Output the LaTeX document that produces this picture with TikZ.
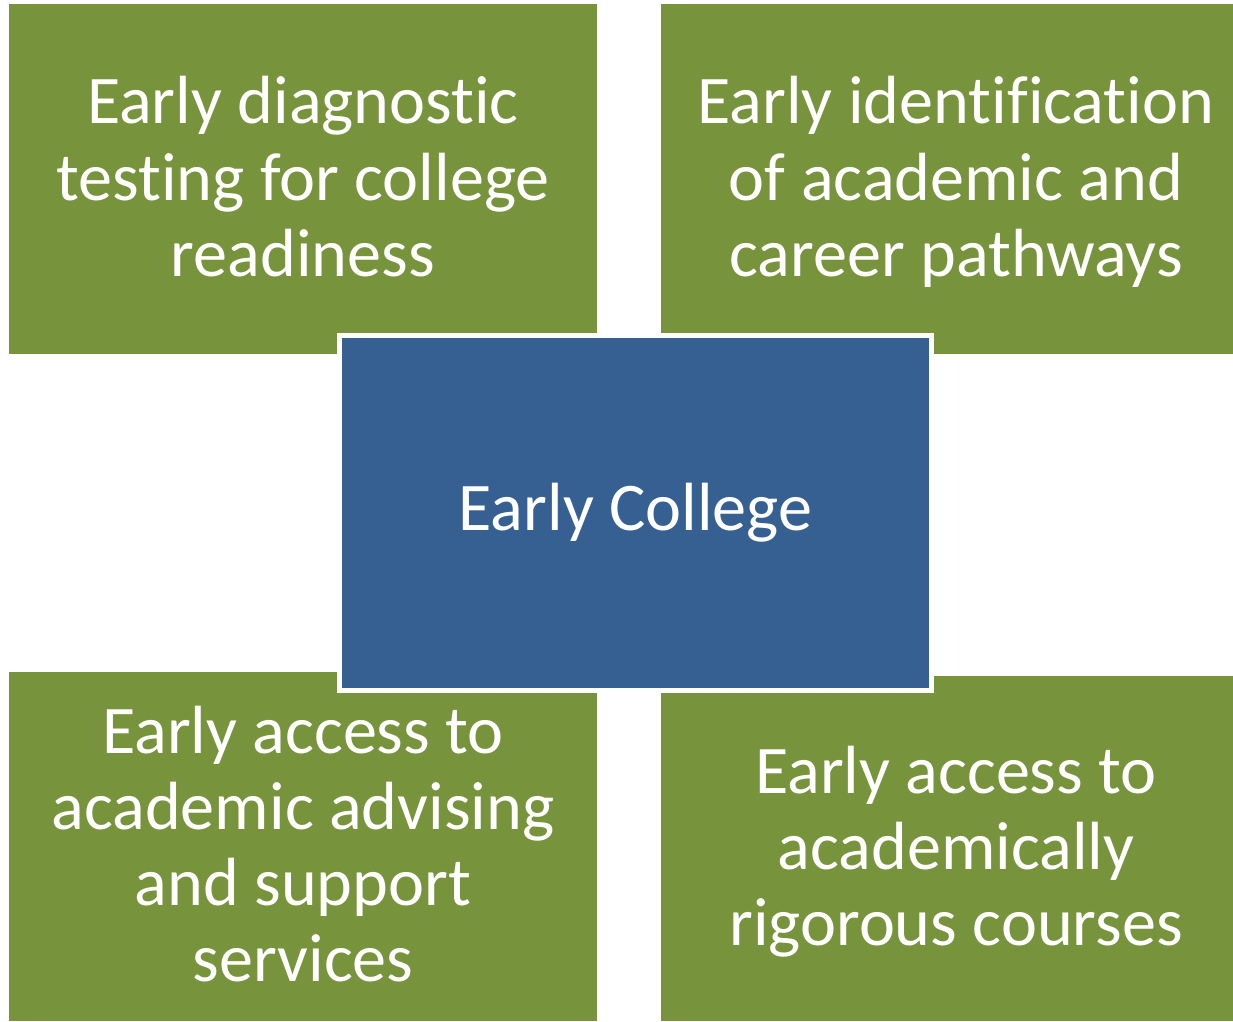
\documentclass[tikz,border=0pt]{standalone}
\usepackage{fontspec}
\setmainfont{Carlito}[Ligatures=NoCommon]
\definecolor{olive}{HTML}{77933C}
\definecolor{steel}{HTML}{376092}
\begin{document}
\begin{tikzpicture}
        \tikzstyle{every node}=[rectangle, inner sep=0pt, text=white, font=\fontsize{19.4}{21.7}\selectfont]
        \tikzstyle{box}=[fill=olive, minimum height=3.5cm]

        \useasboundingbox (0,0) rectangle (12.33,10.21);

        \node[box, minimum width=5.88cm] (diag) at (3.03,8.42)  {\raisebox{-0.24cm}[0pt][0pt]{\begin{tabular}{@{}c@{}} Early diagnostic \\ testing for college \\ readiness \end{tabular}}};
        \node[box, minimum width=5.72cm] (ident) at (9.47,8.42) {\hspace*{0.18cm}\raisebox{-0.24cm}[0pt][0pt]{\begin{tabular}{@{}c@{}} Early identification \\ of academic and \\ career pathways \end{tabular}}};
        \node[box, minimum width=5.88cm, minimum height=3.49cm] (advis) at (3.03,1.745) {\raisebox{-0.24cm}[0pt][0pt]{\begin{tabular}{@{}c@{}} Early access to \\ academic advising \\ and support \\ services \end{tabular}}};
        \node[box, minimum width=5.72cm, minimum height=3.45cm] (rigor) at (9.47,1.725) {\hspace*{0.18cm}\raisebox{-0.24cm}[0pt][0pt]{\begin{tabular}{@{}c@{}} Early access to \\ academically \\ rigorous courses \end{tabular}}};

        \node[fill=steel, draw=white, line width=0.05cm, minimum width=5.92cm, minimum height=3.55cm] (ec) at (6.355,5.08) {Early College};
    \end{tikzpicture}
\end{document}
